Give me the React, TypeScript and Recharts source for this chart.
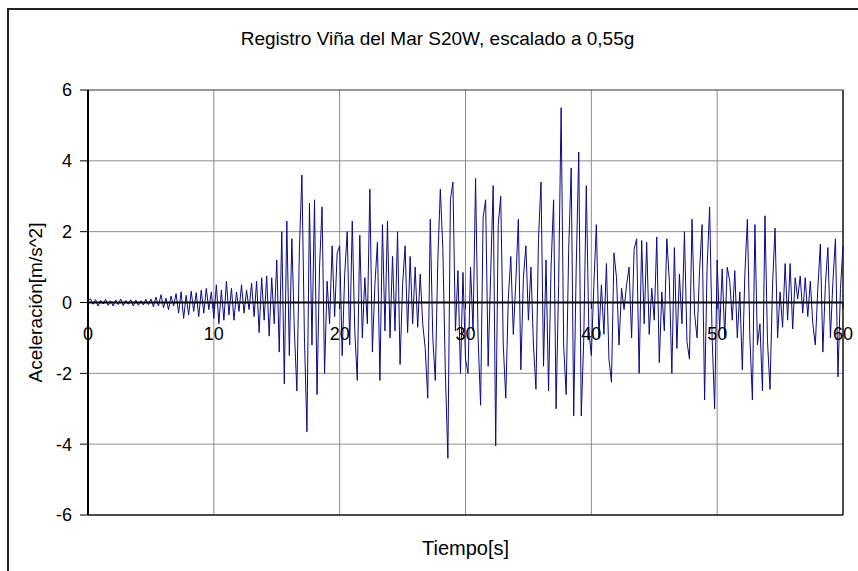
import React from 'react'
import { LineChart, Line, XAxis, YAxis, ReferenceLine, ReferenceDot } from 'recharts'

const sampleStep = 0.2
const accel00to05 = [0.05, 0.1, -0.05, 0.08, -0.1, 0.06, -0.04, 0.09, -0.08, 0.05, -0.1, 0.07, -0.06, 0.1, -0.09, 0.06, -0.05, 0.08, -0.1, 0.07, -0.08, 0.05, -0.07, 0.09, -0.06]
const accel05to10 = [0.1, -0.12, 0.15, -0.1, 0.22, -0.15, 0.12, -0.2, 0.18, -0.1, 0.25, -0.3, 0.3, -0.45, 0.2, -0.35, 0.32, -0.25, 0.28, -0.4, 0.35, -0.3, 0.4, -0.2, 0.3]
const accel10to15 = [-0.45, 0.5, -0.6, 0.35, -0.5, 0.6, -0.35, 0.4, -0.5, 0.3, -0.25, 0.5, -0.3, 0.35, -0.2, 0.55, -0.4, 0.6, -0.85, 0.7, -0.5, 0.75, -0.95, 0.7, -0.6]
const accel15to20 = [1.2, -1.4, 2.0, -2.3, 2.3, -1.5, 1.8, -0.8, -2.5, 1.5, 3.6, -1.0, -3.65, 2.8, -1.2, 2.9, -2.6, 1.0, 2.7, -2.0, 0.6, -0.6, 1.6, -0.4, 1.4]
const accel20to25 = [1.6, -1.5, 0.8, 2.0, -1.2, 2.3, -0.8, -2.2, 1.9, -1.0, 0.7, -0.6, 3.2, -1.4, 0.5, 1.7, -2.2, 2.2, -0.8, 2.3, -1.0, 1.3, -0.8, 2.0, -1.75]
const accel25to30 = [0.5, 1.6, -0.85, 1.3, -0.6, 1.0, -0.7, 0.8, -0.6, -1.3, -2.7, 2.35, -1.0, -2.2, 1.2, 3.2, 1.5, -2.0, -4.4, 2.9, 3.4, -0.8, 0.9, -2.0, 0.85]
const accel30to35 = [-1.6, -2.0, 1.0, -0.8, 3.5, -1.0, -2.9, 2.4, 2.9, -1.8, 0.8, 3.3, -4.05, 2.2, 3.0, -1.2, -2.7, 0.1, 1.3, -0.9, 0.6, 2.35, -1.9, 0.7, 1.6]
const accel35to40 = [-0.5, 1.0, -1.2, -2.45, 1.8, 3.4, -1.8, 1.2, -2.5, 1.0, 2.9, -3.0, 0.5, 5.5, -1.2, -2.6, 1.5, 3.8, -3.2, 1.0, 4.25, -3.2, -1.0, 3.3, -0.8]
const accel40to45 = [-1.5, 0.5, 2.2, -1.0, 0.5, -0.9, 1.1, -1.6, -2.25, 1.4, 0.7, -1.2, 0.4, -0.2, 0.5, 1.0, -1.0, 1.5, 1.8, -2.0, 1.75, -0.6, 1.7, -0.9, 0.4]
const accel45to50 = [-0.5, 1.85, -1.7, 0.3, -0.8, 1.8, 0.6, -2.0, 1.55, -1.3, 0.8, -0.6, 2.0, -1.1, -1.6, 2.35, -0.3, -1.0, 0.9, 2.2, -2.75, 1.0, 2.7, -1.0, -3.0]
const accel50to55 = [1.2, -0.8, 0.95, -1.0, 1.0, 0.6, -0.5, 0.9, -1.0, 0.3, -1.9, 0.8, 2.35, -1.0, -2.75, 2.2, -1.2, -0.6, -2.5, 2.45, -1.1, -2.45, 0.5, 2.1, -1.0]
const accel55to60 = [0.3, -0.7, 1.1, -0.5, 1.1, -0.75, 0.7, 0.1, 0.75, -0.3, 0.7, -0.4, 0.6, -0.6, -1.2, 0.4, 1.65, -1.4, 0.5, 1.55, -1.0, 0.6, 1.8, -2.1, 0.4, 1.6]

const accelBlocks = [accel00to05, accel05to10, accel10to15, accel15to20, accel20to25, accel25to30, accel30to35, accel35to40, accel40to45, accel45to50, accel50to55, accel55to60]
const data = accelBlocks.flat().map((a, i) => ({ t: Number((i * sampleStep).toFixed(1)), a }))

const xTicks = [0, 10, 20, 30, 40, 50, 60]
const yTicks = [-6, -4, -2, 0, 2, 4, 6]
const vGrid = [10, 20, 30, 40, 50]
const hGrid = [-4, -2, 2, 4]

const title = 'Registro Viña del Mar S20W, escalado a 0,55g'
const xTitle = 'Tiempo[s]'
const yTitle = 'Aceleración[m/s^2]'

const font = '"Liberation Sans", Arial, sans-serif'

export default function App() {
  return (
    <div style={{ position: 'absolute', left: 0, top: 0, width: 858, height: 571, overflow: 'hidden', background: '#fff', fontFamily: font, color: '#000' }}>
      <div style={{ position: 'absolute', left: 7, top: 8, width: 900, height: 700, border: '2px solid #222', boxSizing: 'border-box' }} />
      <div style={{ position: 'absolute', left: 0, width: 875, top: 28, textAlign: 'center', fontSize: 19 }}>{title}</div>
      <LineChart
        width={858}
        height={571}
        data={data}
        margin={{ top: 90, right: 15, bottom: 56, left: 0 }}
        style={{ position: 'absolute', left: 0, top: 0, fontFamily: font }}
      >
        <XAxis type="number" dataKey="t" domain={[0, 60]} ticks={xTicks} hide />
        <YAxis
          type="number"
          domain={[-6, 6]}
          ticks={yTicks}
          interval={0}
          width={88}
          axisLine={{ stroke: '#000', strokeWidth: 2 }}
          tickLine={{ stroke: '#000' }}
          tickSize={8}
          tickMargin={8}
          tick={{ fill: '#000', fontSize: 18 }}
          label={{ value: yTitle, angle: -90, position: 'insideLeft', offset: 35, style: { textAnchor: 'middle', fill: '#000', fontSize: 19 } }}
        />
        {hGrid.map((v) => <ReferenceLine key={'h' + v} y={v} stroke="#8c8c8c" />)}
        {vGrid.map((v) => <ReferenceLine key={'v' + v} x={v} stroke="#8c8c8c" />)}
        <ReferenceLine y={6} stroke="#333" />
        <ReferenceLine y={-6} stroke="#111" strokeWidth={1.5} />
        <ReferenceLine x={60} stroke="#111" strokeWidth={1.5} />
        <Line type="linear" dataKey="a" stroke="#0a0a85" strokeWidth={1} dot={false} isAnimationActive={false} />
        <ReferenceLine y={0} stroke="#000" strokeWidth={2} />
        {xTicks.map((t) => (
          <ReferenceLine key={'tk' + t} segment={[{ x: t, y: 0 }, { x: t, y: -0.18 }]} stroke="#000" />
        ))}
        {xTicks.map((t) => (
          <ReferenceDot
            key={'lb' + t}
            x={t}
            y={0}
            r={0}
            fill="none"
            stroke="none"
            label={{ value: String(t), position: 'bottom', offset: 25, fill: '#000', fontSize: 18 }}
          />
        ))}
      </LineChart>
      <div style={{ position: 'absolute', left: 88, width: 755, top: 537, textAlign: 'center', fontSize: 20 }}>{xTitle}</div>
    </div>
  )
}
